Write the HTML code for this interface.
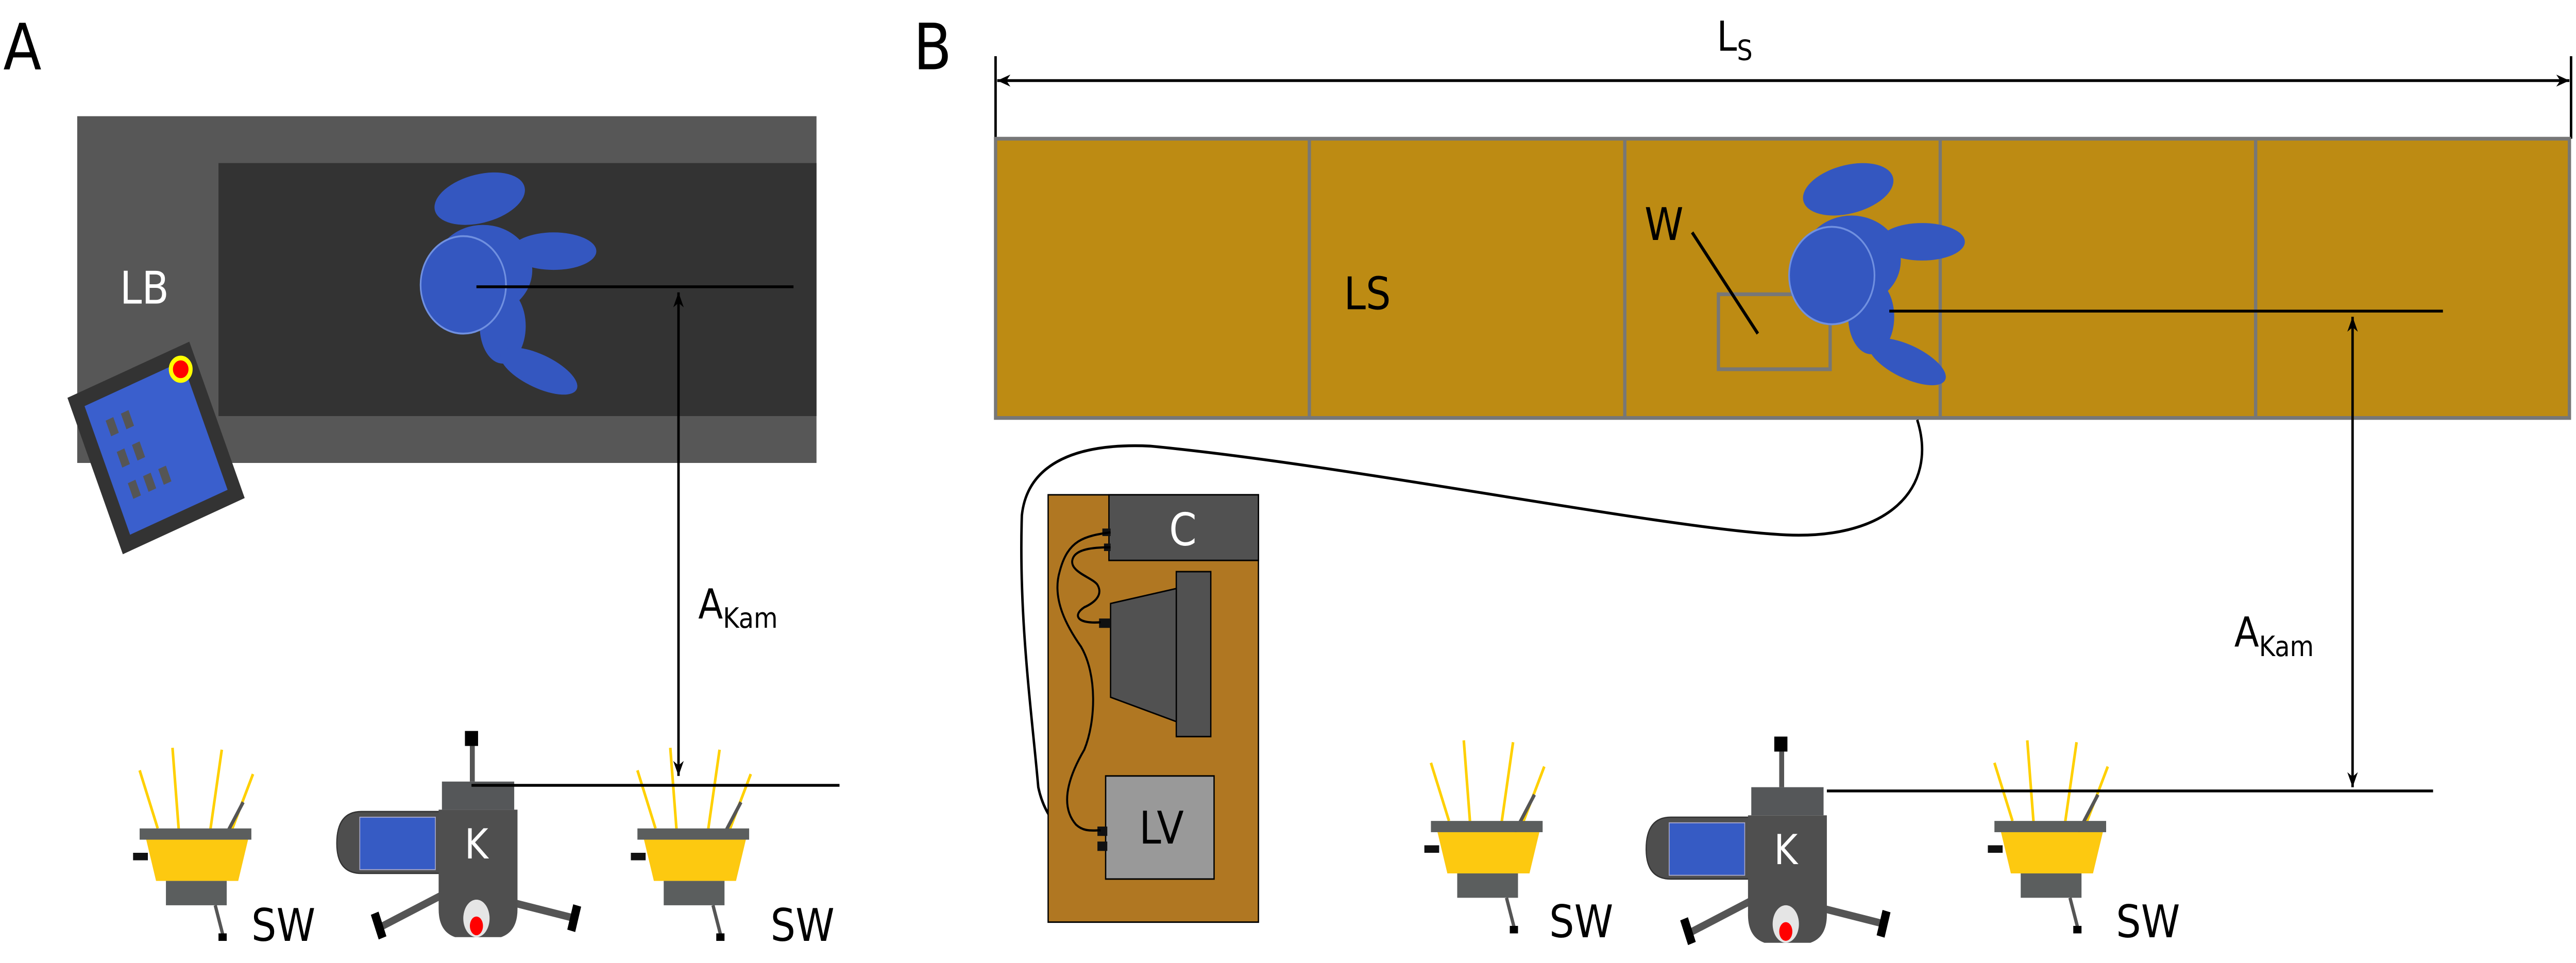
<!DOCTYPE html>
<html><head><meta charset="utf-8"><style>
html,body{margin:0;padding:0;background:#fff;width:100%;height:100%;overflow:hidden;}
svg{display:block;width:100vw;height:100vh;}
text{font-family:"DejaVu Sans","Liberation Sans",sans-serif;}
</style></head><body>
<svg viewBox="0 0 1568 513.8" preserveAspectRatio="none" xmlns="http://www.w3.org/2000/svg">
<defs>
<marker id="ah" viewBox="0 0 10 10" refX="10" refY="5" markerWidth="8" markerHeight="8" orient="auto-start-reverse" markerUnits="userSpaceOnUse"><path d="M0,1 L10,5 L0,9 L3,5 Z" fill="#000"/></marker>
<g id="person">
<ellipse cx="10" cy="-46" rx="28" ry="13" transform="rotate(-12 10 -46)" fill="#3457c0"/>
<ellipse cx="12" cy="-8" rx="30" ry="24" fill="#3457c0"/>
<ellipse cx="55" cy="-18" rx="26" ry="10" fill="#3457c0"/>
<ellipse cx="24" cy="22" rx="14" ry="20" fill="#3457c0"/>
<ellipse cx="46" cy="46" rx="25" ry="9" transform="rotate(22 46 46)" fill="#3457c0"/>
<circle cx="0" cy="0" r="26" fill="#3457c0" stroke="#7090e0" stroke-width="1"/>
</g>
<g id="camera">
<rect x="283" y="390" width="8" height="8" fill="#000"/>
<rect x="286" y="398" width="3" height="19" fill="#555"/>
<line x1="268" y1="478" x2="233" y2="494" stroke="#555" stroke-width="4"/>
<line x1="314" y1="482" x2="350" y2="490" stroke="#555" stroke-width="4"/>
<rect x="228" y="487" width="5" height="14" fill="#000" transform="rotate(-20 230 494)"/>
<rect x="347" y="483" width="5" height="14" fill="#000" transform="rotate(15 350 490)"/>
<path d="M220,433 L268,433 L268,466 L220,466 Q205,466 205,450 Q205,433 220,433 Z" fill="#4e4e4e" stroke="#333" stroke-width="0.7"/>
<rect x="219" y="436" width="46" height="28" fill="#365bc4" stroke="#aac" stroke-width="0.5"/>
<rect x="269" y="417" width="44" height="15" fill="#555759"/>
<path d="M267,432 L315,432 L315,485 Q315,497 305,500 L277,500 Q267,497 267,485 Z" fill="#4f4f4f"/>
<text x="290" y="458" font-size="22" fill="#fff" text-anchor="middle">K</text>
<ellipse cx="290" cy="490" rx="8" ry="10" fill="#e5e5e5"/>
<ellipse cx="290" cy="494" rx="4" ry="5" fill="#f00"/>
</g>
<g id="light">
<g stroke="#ffd000" stroke-width="1.6">
<line x1="85" y1="411" x2="96" y2="442"/>
<line x1="105" y1="399" x2="109" y2="445"/>
<line x1="135" y1="400" x2="128" y2="443"/>
<line x1="154" y1="413" x2="141" y2="443"/>
</g>
<line x1="136" y1="448" x2="148" y2="428" stroke="#555" stroke-width="2"/>
<rect x="81" y="455" width="9" height="4" fill="#111"/>
<rect x="85" y="442" width="68" height="6" fill="#5b5e5e"/>
<path d="M89,448 L151,448 L145,470 L95,470 Z" fill="#fdc910"/>
<rect x="101" y="470" width="37" height="13" fill="#5b5e5e"/>
<line x1="131" y1="483" x2="136" y2="500" stroke="#555" stroke-width="2"/>
<rect x="133" y="498" width="5" height="4" fill="#000"/>
</g>
</defs>
<!-- Panel A -->
<text x="2" y="37" font-size="34">A</text>
<rect x="47" y="62" width="450" height="185" fill="#575757"/>
<rect x="133" y="87" width="364" height="135" fill="#333"/>
<text x="73" y="162" font-size="24" fill="#fff">LB</text>
<g transform="rotate(-22 95 239)">
<rect x="55" y="194" width="80" height="90" fill="#333"/>
<rect x="63" y="202" width="64" height="74" fill="#3a5fcd"/>
<g fill="#555"><rect x="72" y="214" width="5" height="9"/><rect x="82" y="214" width="5" height="9"/><rect x="72" y="232" width="5" height="9"/><rect x="82" y="232" width="5" height="9"/><rect x="72" y="250" width="5" height="9"/><rect x="82" y="250" width="5" height="9"/><rect x="92" y="250" width="5" height="9"/></g>
</g>
<circle cx="110" cy="197" r="6" fill="#f00" stroke="#ff0" stroke-width="2.5"/>
<use href="#person" transform="translate(282,152)"/>
<line x1="290" y1="153" x2="483" y2="153" stroke="#000" stroke-width="1.5"/>
<line x1="413" y1="156" x2="413" y2="414" stroke="#000" stroke-width="1.5" marker-start="url(#ah)" marker-end="url(#ah)"/>
<text x="425" y="330" font-size="22">A<tspan font-size="15" dy="5">Kam</tspan></text>
<use href="#light"/>
<use href="#light" transform="translate(303,0)"/>
<use href="#camera"/>
<line x1="287" y1="419" x2="511" y2="419" stroke="#000" stroke-width="1.5"/>
<text x="153" y="502" font-size="24">SW</text>
<text x="469" y="502" font-size="24">SW</text>

<!-- Panel B -->
<text x="556" y="37" font-size="34">B</text>
<line x1="606" y1="30" x2="606" y2="74" stroke="#000" stroke-width="1.5"/>
<line x1="1565" y1="30" x2="1565" y2="74" stroke="#000" stroke-width="1.5"/>
<line x1="607" y1="43" x2="1564" y2="43" stroke="#000" stroke-width="1.5" marker-start="url(#ah)" marker-end="url(#ah)"/>
<text x="1045" y="27" font-size="22">L<tspan font-size="15" dy="5">S</tspan></text>
<rect x="606" y="74" width="958" height="149" fill="#bd8b13" stroke="#777" stroke-width="2"/>
<g stroke="#777" stroke-width="2"><line x1="797" y1="74" x2="797" y2="223"/><line x1="989" y1="74" x2="989" y2="223"/><line x1="1181" y1="74" x2="1181" y2="223"/><line x1="1373" y1="74" x2="1373" y2="223"/></g>
<text x="818" y="165" font-size="24">LS</text>
<text x="1001" y="128" font-size="24">W</text>
<rect x="1046" y="157" width="68" height="40" fill="none" stroke="#777" stroke-width="2"/>
<line x1="1030" y1="124" x2="1070" y2="178" stroke="#000" stroke-width="1.8"/>
<use href="#person" transform="translate(1115,147)"/>
<line x1="1150" y1="166" x2="1487" y2="166" stroke="#000" stroke-width="1.5"/>
<line x1="1432" y1="169" x2="1432" y2="420" stroke="#000" stroke-width="1.5" marker-start="url(#ah)" marker-end="url(#ah)"/>
<text x="1360" y="345" font-size="22">A<tspan font-size="15" dy="5">Kam</tspan></text>
<path d="M1167,224 C1180,260 1150,290 1080,285 C1000,280 820,248 700,238 C650,236 625,250 622,275 C620,330 628,380 632,420 C638,445 660,452 672,453" fill="none" stroke="#000" stroke-width="1.5"/>
<rect x="638" y="264" width="128" height="228" fill="#b07722" stroke="#000" stroke-width="0.8"/>
<rect x="675" y="264" width="91" height="35" fill="#515151" stroke="#000" stroke-width="0.8"/>
<text x="720" y="291" font-size="24" fill="#fff" text-anchor="middle">C</text>
<rect x="716" y="305" width="21" height="88" fill="#515151" stroke="#000" stroke-width="0.8"/>
<path d="M676,322 L716,314 L716,385 L676,372 Z" fill="#515151" stroke="#000" stroke-width="0.8"/>
<rect x="673" y="414" width="66" height="55" fill="#999" stroke="#000" stroke-width="0.8"/>
<text x="707" y="450" font-size="24" text-anchor="middle">LV</text>
<g fill="#111"><rect x="671" y="282" width="5" height="4"/><rect x="672" y="290" width="4" height="4"/><rect x="669" y="330" width="7" height="5"/><rect x="668" y="441" width="6" height="5"/><rect x="668" y="449" width="6" height="5"/></g>
<path d="M676,284 C660,286 650,288 645,305 C640,320 650,335 658,345 C668,360 667,385 660,400 C650,415 645,430 655,440 C660,444 665,443 670,443" fill="none" stroke="#000" stroke-width="1.2"/>
<path d="M676,292 C665,292 655,293 653,298 C650,305 665,308 668,312 C672,318 665,322 660,324 C653,328 655,333 670,332" fill="none" stroke="#000" stroke-width="1.2"/>
<use href="#light" transform="translate(786,-4)"/>
<use href="#light" transform="translate(1129,-4)"/>
<use href="#camera" transform="translate(797,3)"/>
<line x1="1112" y1="422" x2="1481" y2="422" stroke="#000" stroke-width="1.5"/>
<text x="943" y="500" font-size="24">SW</text>
<text x="1288" y="500" font-size="24">SW</text>
</svg>
</body></html>
